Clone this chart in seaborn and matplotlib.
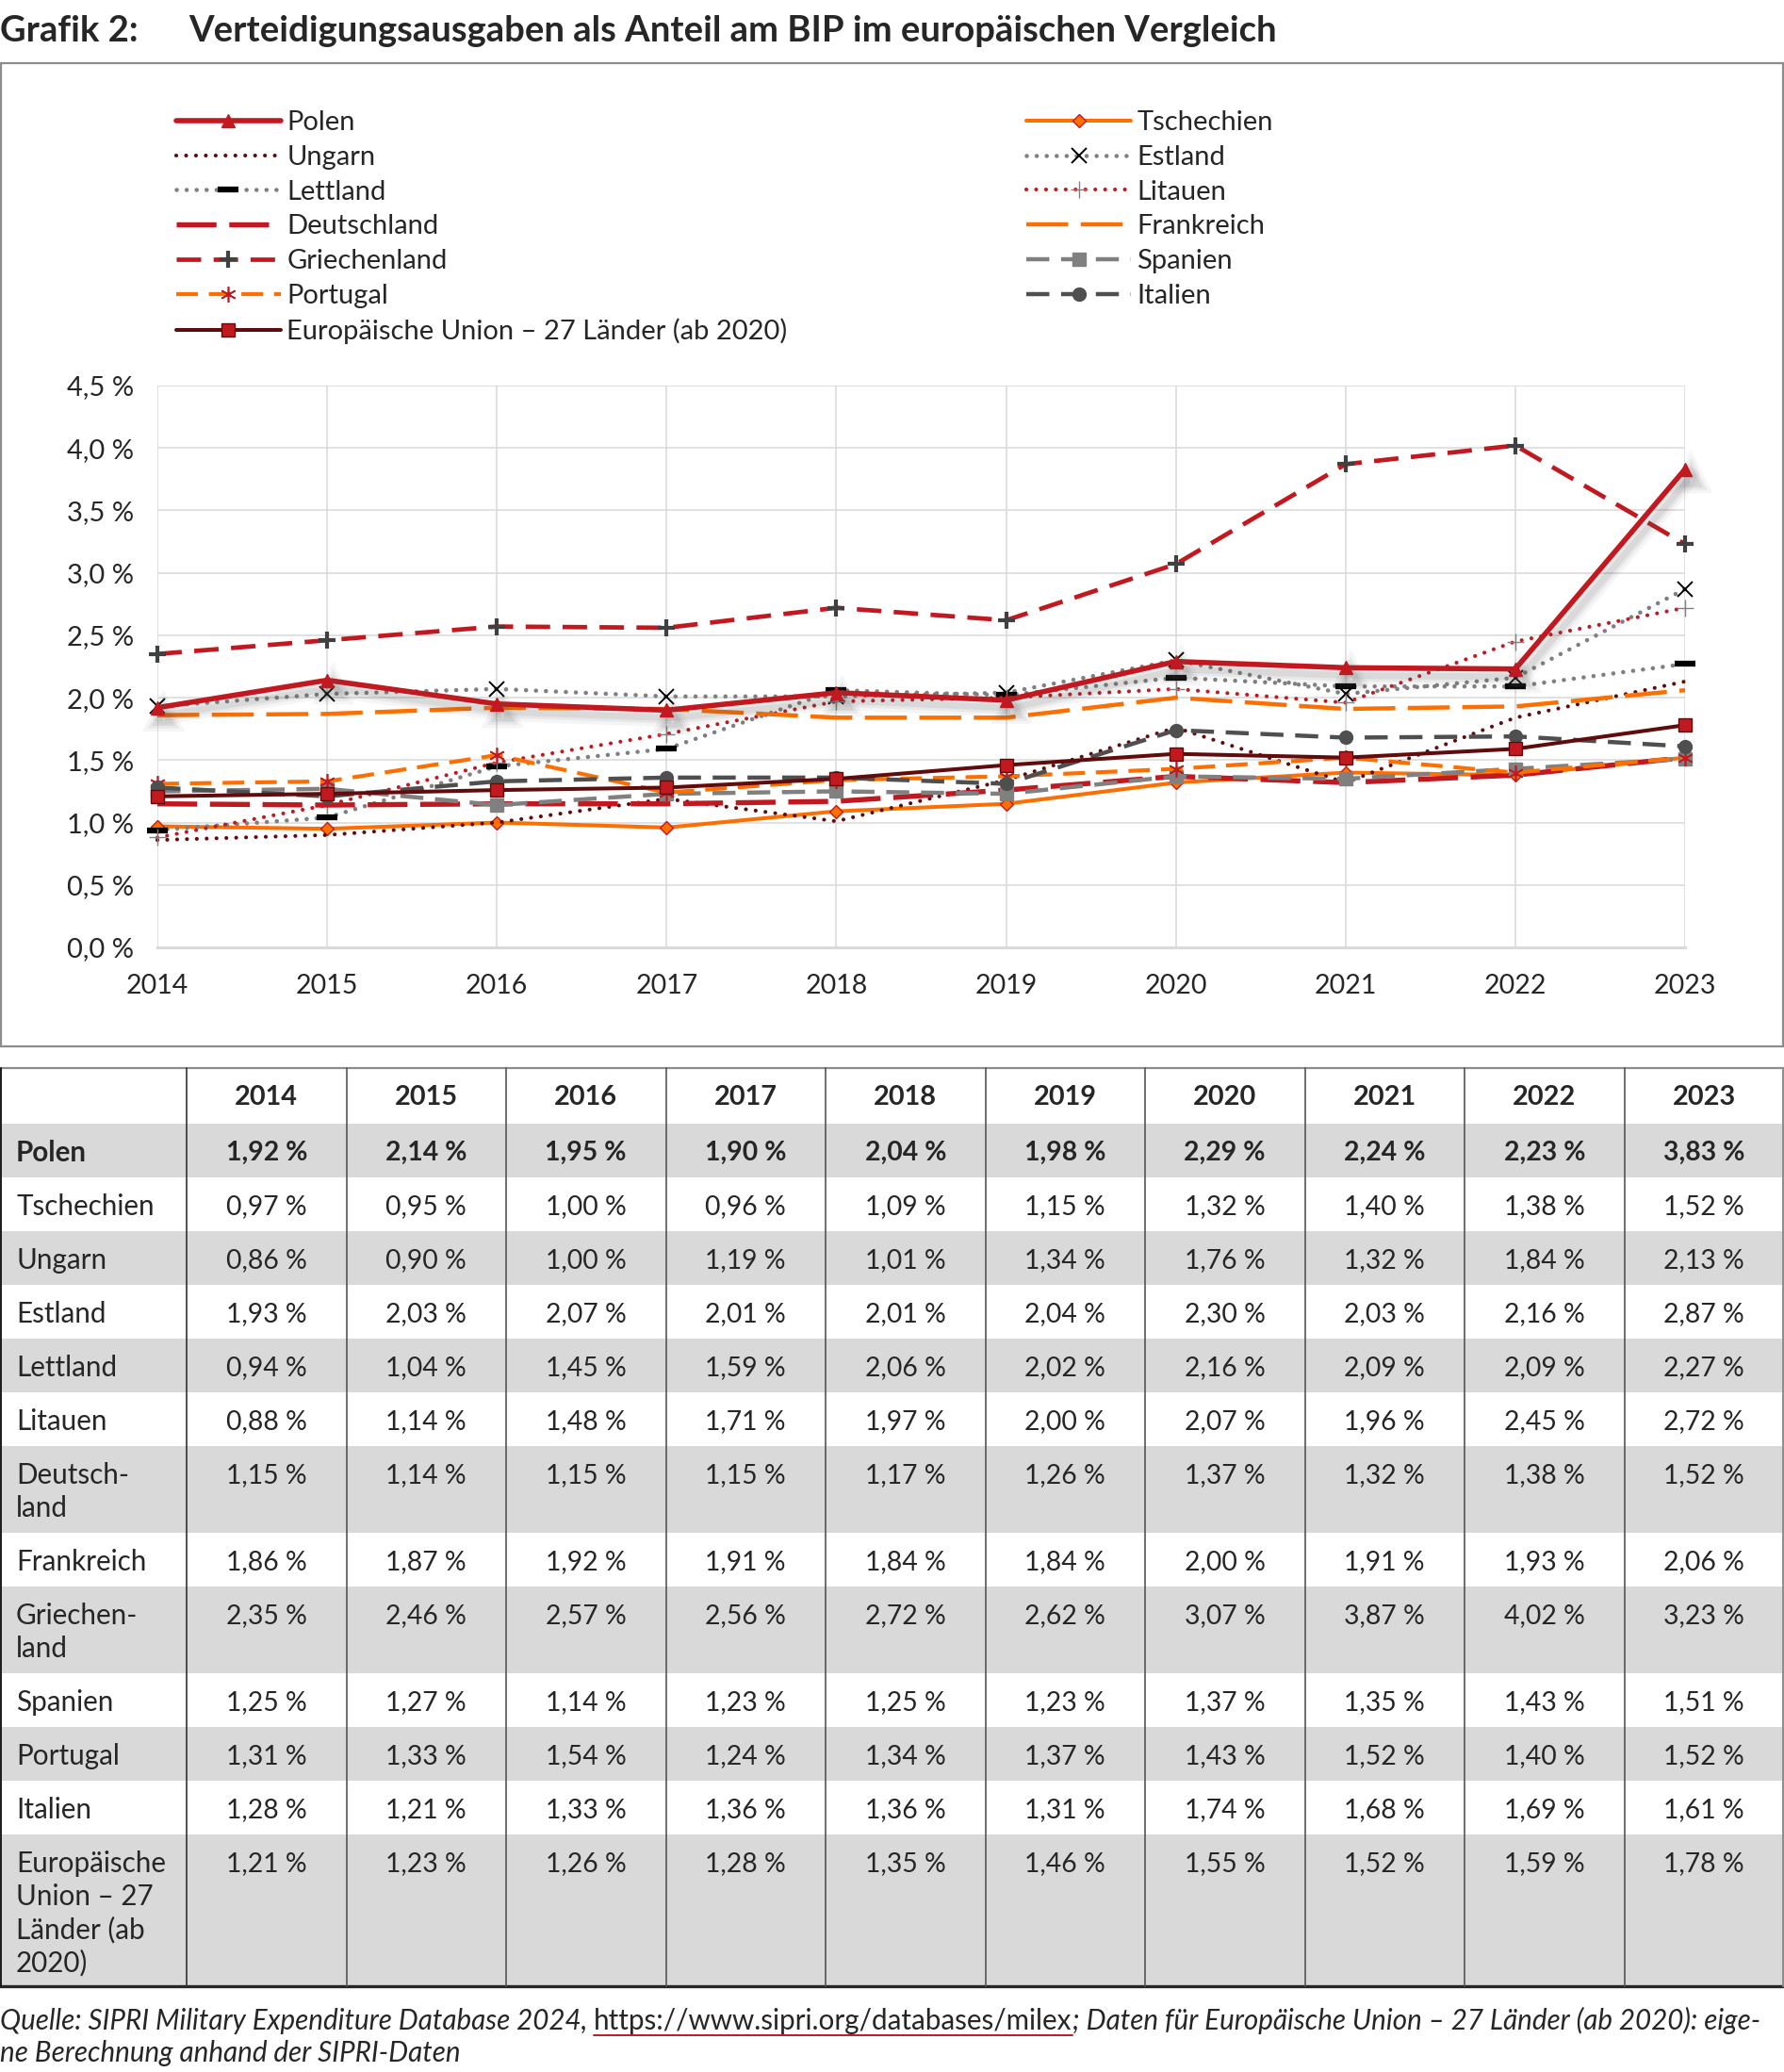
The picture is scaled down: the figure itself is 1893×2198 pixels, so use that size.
import matplotlib
matplotlib.use("Agg")
import matplotlib.pyplot as plt
import matplotlib.patheffects as pe
from matplotlib.lines import Line2D
from matplotlib.patches import Rectangle
from matplotlib.ticker import FuncFormatter
import numpy as np
import pandas as pd
import seaborn as sns

# --- data (SIPRI, share of GDP in %) ---
years = [2014, 2015, 2016, 2017, 2018, 2019, 2020, 2021, 2022, 2023]
countries = ["Polen", "Tschechien", "Ungarn", "Estland", "Lettland", "Litauen",
             "Deutschland", "Frankreich", "Griechenland", "Spanien", "Portugal",
             "Italien", "Europäische Union – 27 Länder (ab 2020)"]
table_labels = ["Polen", "Tschechien", "Ungarn", "Estland", "Lettland", "Litauen",
                "Deutsch-\nland", "Frankreich", "Griechen-\nland", "Spanien", "Portugal",
                "Italien", "Europäische\nUnion – 27\nLänder (ab\n2020)"]
polen = [1.92, 2.14, 1.95, 1.90, 2.04, 1.98, 2.29, 2.24, 2.23, 3.83]
tschechien = [0.97, 0.95, 1.00, 0.96, 1.09, 1.15, 1.32, 1.40, 1.38, 1.52]
ungarn = [0.86, 0.90, 1.00, 1.19, 1.01, 1.34, 1.76, 1.32, 1.84, 2.13]
estland = [1.93, 2.03, 2.07, 2.01, 2.01, 2.04, 2.30, 2.03, 2.16, 2.87]
lettland = [0.94, 1.04, 1.45, 1.59, 2.06, 2.02, 2.16, 2.09, 2.09, 2.27]
litauen = [0.88, 1.14, 1.48, 1.71, 1.97, 2.00, 2.07, 1.96, 2.45, 2.72]
deutschland = [1.15, 1.14, 1.15, 1.15, 1.17, 1.26, 1.37, 1.32, 1.38, 1.52]
frankreich = [1.86, 1.87, 1.92, 1.91, 1.84, 1.84, 2.00, 1.91, 1.93, 2.06]
griechenland = [2.35, 2.46, 2.57, 2.56, 2.72, 2.62, 3.07, 3.87, 4.02, 3.23]
spanien = [1.25, 1.27, 1.14, 1.23, 1.25, 1.23, 1.37, 1.35, 1.43, 1.51]
portugal = [1.31, 1.33, 1.54, 1.24, 1.34, 1.37, 1.43, 1.52, 1.40, 1.52]
italien = [1.28, 1.21, 1.33, 1.36, 1.36, 1.31, 1.74, 1.68, 1.69, 1.61]
eu27 = [1.21, 1.23, 1.26, 1.28, 1.35, 1.46, 1.55, 1.52, 1.59, 1.78]
values = [polen, tschechien, ungarn, estland, lettland, litauen, deutschland,
          frankreich, griechenland, spanien, portugal, italien, eu27]

RED = "#C1191F"
ORANGE = "#FF6F00"
MAROON = "#600C0C"
GRAY = "#808080"
DGRAY = "#4F4F4F"

# per series: colour, linewidth, linestyle, marker kwargs
styles = [
    dict(color=RED, lw=4.0, ls="-", marker="^", ms=10, mfc=RED, mec=RED, mew=1),
    dict(color=ORANGE, lw=2.9, ls="-", marker="D", ms=7, mfc=ORANGE, mec=RED, mew=1),
    dict(color=MAROON, lw=3.0, ls=(0, (0.01, 2.5)), marker=None),
    dict(color=GRAY, lw=3.3, ls=(0, (0.01, 2.3)), marker="x", ms=11, mfc="black", mec="black", mew=1.4),
    dict(color=GRAY, lw=3.3, ls=(0, (0.01, 2.3)), marker="_", ms=16, mfc="black", mec="black", mew=4.5),
    dict(color=RED, lw=3.0, ls=(0, (0.01, 2.5)), marker="+", ms=13, mfc=GRAY, mec=GRAY, mew=1.0),
    dict(color=RED, lw=3.9, ls=(0, (7.8, 2.5)), marker=None),
    dict(color=ORANGE, lw=3.2, ls=(0, (10, 3)), marker=None),
    dict(color=RED, lw=3.4, ls=(0, (5.5, 2.8)), marker="+", ms=13, mfc="#404040", mec="#404040", mew=3),
    dict(color=GRAY, lw=3.2, ls=(0, (5.5, 2.8)), marker="s", ms=10, mfc=GRAY, mec=GRAY, mew=1),
    dict(color=ORANGE, lw=3.0, ls=(0, (5.5, 2.8)), marker=(6, 2, 0), ms=12, mfc=RED, mec=RED, mew=1.2),
    dict(color=DGRAY, lw=3.2, ls=(0, (5.5, 2.8)), marker="o", ms=10, mfc=DGRAY, mec=DGRAY, mew=1),
    dict(color=MAROON, lw=2.9, ls="-", marker="s", ms=10, mfc=RED, mec=MAROON, mew=1),
]


def line_kw(st):
    kw = dict(color=st["color"], linewidth=st["lw"], linestyle=st["ls"])
    if st["marker"] is not None:
        kw.update(marker=st["marker"], markersize=st["ms"], markerfacecolor=st["mfc"],
                  markeredgecolor=st["mec"], markeredgewidth=st["mew"])
    dotted = isinstance(st["ls"], tuple) and st["ls"][1][0] < 0.1
    kw.update(dash_capstyle="round" if dotted else "butt", solid_capstyle="round")
    return kw


sns.set_style("white")
plt.rcParams["font.family"] = ["Lato", "DejaVu Sans"]

W, H = 1893, 2198
fig = plt.figure(figsize=(W / 100, H / 100), dpi=100)

# background axes in pixel coordinates for frame, title, table, source
bg = fig.add_axes([0, 0, 1, 1], zorder=0)
bg.set_xlim(0, W)
bg.set_ylim(H, 0)
bg.axis("off")

bg.text(0, 33, "Grafik 2:", fontsize=27.5, fontweight="bold", va="center", ha="left")
bg.text(200, 33, "Verteidigungsausgaben als Anteil am BIP im europäischen Vergleich",
        fontsize=27.5, fontweight="bold", va="center", ha="left")

# chart frame
bg.add_patch(Rectangle((1, 67), W - 2, 1043, fill=False, ec="#8C8C8C", lw=1.6))

# --- line chart ---
x0, x1, y0, y1 = 167, 1788, 409, 1005
ax = fig.add_axes([x0 / W, 1 - y1 / H, (x1 - x0) / W, (y1 - y0) / H], zorder=2)
ax.set_facecolor("none")

long_df = pd.DataFrame({"Jahr": np.repeat(years, len(countries)),
                        "Land": countries * len(years),
                        "Anteil": np.array(values).T.ravel()})

draw_order = list(range(1, len(countries))) + [0]
for i in draw_order:
    sub = long_df[long_df["Land"] == countries[i]]
    sns.lineplot(data=sub, x="Jahr", y="Anteil", ax=ax, legend=False,
                 estimator=None, sort=False, **line_kw(styles[i]))
    line = ax.lines[-1]
    line.set_clip_on(False)
    if i == 0:
        # soft drop shadow like the original
        line.set_path_effects([
            pe.SimpleLineShadow(offset=(4, -6), shadow_color="#555555", alpha=0.06, linewidth=14),
            pe.SimpleLineShadow(offset=(4, -6), shadow_color="#555555", alpha=0.08, linewidth=9),
            pe.SimpleLineShadow(offset=(4, -6), shadow_color="#555555", alpha=0.10, linewidth=5),
            pe.Normal()])

ax.set_xlim(years[0], years[-1])
ax.set_ylim(0, 4.5)
ax.set_xticks(years)
ax.set_yticks(np.arange(0, 4.51, 0.5))
ax.yaxis.set_major_formatter(FuncFormatter(lambda v, _: f"{v:.1f} %".replace(".", ",")))
ax.grid(True, color="#D9D9D9", lw=1.1)
ax.set_axisbelow(True)
for side in ["top", "right", "left"]:
    ax.spines[side].set_visible(False)
ax.spines["bottom"].set_color("#D9D9D9")
ax.spines["bottom"].set_linewidth(2.2)
ax.tick_params(axis="x", length=7, width=1.5, color="#D9D9D9", pad=13, labelsize=20.5)
ax.tick_params(axis="y", length=0, pad=18, labelsize=21)
ax.set_xlabel("")
ax.set_ylabel("")

left_col = [0, 2, 4, 6, 8, 10, 12]
right_col = [1, 3, 5, 7, 9, 11]
order = left_col + right_col
handles = [Line2D([], [], **line_kw(styles[i])) for i in order]
fig.legend(handles, [countries[i] for i in order],
           loc="upper left", bbox_to_anchor=(187 / W, 1 - 117 / H), ncol=2,
           frameon=False, fontsize=21, handlelength=3.8, handletextpad=0.22,
           columnspacing=8.7, labelspacing=0.37, borderpad=0, borderaxespad=0,
           numpoints=1)

# --- table ---
t_top = 1133
label_w = 198
col_w = (W - label_w) / len(years)
head_h = 59
line_h = 35
row_hs = [57 + line_h * (lab.count("\n")) for lab in table_labels]
row_hs[-1] = 161

y = t_top
for j, yr in enumerate(years):
    bg.text(label_w + (j + 0.5) * col_w, y + 29, str(yr), fontsize=20.8, fontweight="bold",
            ha="center", va="center_baseline")
y += head_h
for r, lab in enumerate(table_labels):
    h = row_hs[r]
    if r % 2 == 0:
        bg.add_patch(Rectangle((0, y), W, h, color="#D9D9D9", lw=0, zorder=0))
    weight = "bold" if r == 0 else "normal"
    for k, part in enumerate(lab.split("\n")):
        bg.text(17, y + 28.5 + k * line_h, part, fontsize=21.3, fontweight=weight,
                ha="left", va="center_baseline")
    for j, v in enumerate(values[r]):
        bg.text(label_w + (j + 0.5) * col_w, y + 28.5, f"{v:.2f} %".replace(".", ","),
                fontsize=20.4, fontweight=weight, ha="center", va="center_baseline")
    y += h
t_bot = y

# borders
bg.plot([0, W], [t_top, t_top], color="#8C8C8C", lw=1.6)
bg.plot([0, W], [t_bot, t_bot], color="#262626", lw=2.4)
bg.plot([1, 1], [t_top, t_bot], color="#1A1A1A", lw=1.4)
bg.plot([W - 1, W - 1], [t_top, t_bot], color="#8C8C8C", lw=1.4)
for j in range(len(years)):
    xx = label_w + j * col_w
    bg.plot([xx, xx], [t_top, t_bot], color="#333333" if j == 0 else "#555555", lw=1.2)

# --- source note ---
fig.canvas.draw()
rend = fig.canvas.get_renderer()
src_y = 2141
fs_src = 21.3
p1 = bg.text(0, src_y, "Quelle: SIPRI Military Expenditure Database 2024, ", fontsize=fs_src,
             style="italic", ha="left", va="center_baseline")
bb = p1.get_window_extent(rend)
p2 = bg.text(bb.x1, src_y, "https://www.sipri.org/databases/milex", fontsize=fs_src,
             ha="left", va="center_baseline")
bb2 = p2.get_window_extent(rend)
bg.plot([bb2.x0, bb2.x1], [src_y + 18, src_y + 18], color=RED, lw=1.4)
bg.text(bb2.x1, src_y, "; Daten für Europäische Union – 27 Länder (ab 2020): eige-",
        fontsize=fs_src, style="italic", ha="left", va="center_baseline")
bg.text(0, src_y + 35, "ne Berechnung anhand der SIPRI-Daten", fontsize=fs_src,
        style="italic", ha="left", va="center_baseline")

fig.savefig("out.png", dpi=100)
